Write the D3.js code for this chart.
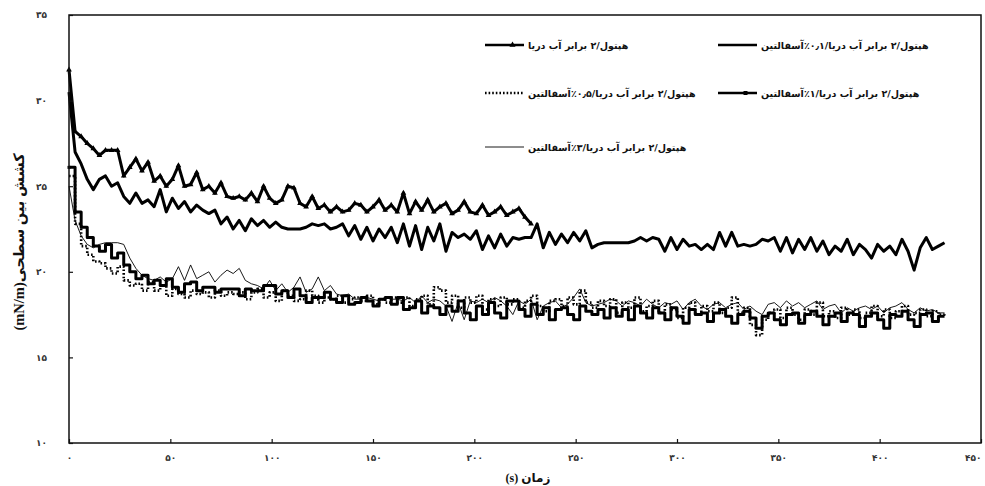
<!DOCTYPE html>
<html>
<head>
<meta charset="utf-8">
<script src="https://cdn.jsdelivr.net/npm/d3@7"></script>
<style>
  html, body { margin: 0; padding: 0; background: #fff; }
  svg { display: block; }
  .tick-label { font-family: "DejaVu Sans", sans-serif; font-weight: bold; font-size: 9px; fill: #333; letter-spacing: 3px; }
  .legend-text { font-family: "DejaVu Sans", sans-serif; font-weight: bold; font-size: 9.5px; fill: #111; }
  .axis-title { font-family: "Liberation Serif", "DejaVu Sans", serif; font-weight: bold; fill: #111; }
</style>
</head>
<body>
<svg id="chart" width="985" height="486"></svg>
<script>
// Sample times (s)
const sampleTimes = [
  0,3,6,9,12,15,18,21,24,27,30,33,36,39,42,45,48,51,54,57,
  60,63,66,69,72,75,78,81,84,87,90,93,96,99,102,105,108,111,114,117,
  120,123,126,129,132,135,138,141,144,147,150,153,156,159,162,165,168,171,174,177,
  180,183,186,189,192,195,198,201,204,207,210,213,216,219,222,225,228,231,234,237,
  240,243,246,249,252,255,258,261,264,267,270,273,276,279,282,285,288,291,294,297,
  300,303,306,309,312,315,318,321,324,327,330,333,336,339,342,345,348,351,354,357,
  360,363,366,369,372,375,378,381,384,387,390,393,396,399,402,405,408,411,414,417,
  420,423,426,429,432
];

// Interfacial tension (mN/m), heptol / 2x seawater, no asphaltene (to 228 s)
const tensionNoAsph = [
  31.8,28.2,27.9,27.5,27.2,26.8,27.1,27.1,27.1,25.6,26.1,26.6,25.9,26.4,25.3,25.6,25.0,25.4,26.2,25.0,
  25.1,25.8,24.8,25.0,24.6,25.2,24.4,24.3,24.4,24.2,24.6,24.1,25.0,24.3,24.0,24.2,25.0,24.9,24.0,23.8,
  24.4,23.7,23.9,23.5,23.8,23.5,23.6,24.0,23.9,23.5,23.8,24.2,23.6,23.9,23.5,24.6,23.4,24.1,23.6,24.2,
  23.5,23.8,24.0,23.4,23.6,24.1,23.5,23.4,23.9,23.3,23.5,23.8,23.3,23.5,23.7,23.2,22.8
];

// 0.1% asphaltene
const tensionAsph01 = [
  30.5,27.0,26.3,25.4,24.8,25.4,25.6,25.0,25.2,24.4,24.0,24.6,24.0,24.2,23.8,24.8,23.5,24.3,23.7,24.1,
  23.5,23.9,23.6,23.4,23.6,22.8,23.2,22.5,23.0,22.4,23.1,22.7,23.0,22.6,22.9,22.6,22.5,22.5,22.5,22.6,
  22.8,22.7,22.8,22.5,22.6,22.8,22.1,22.7,21.9,22.6,21.8,22.5,22.0,22.6,21.7,22.8,21.5,22.7,21.3,22.6,
  21.8,22.8,21.2,22.3,22.0,22.2,21.9,22.4,21.3,22.1,21.4,22.2,21.5,22.0,21.9,22.0,22.0,22.8,21.4,22.3,
  21.6,22.2,21.7,22.3,21.8,22.4,21.4,21.6,21.7,21.7,21.7,21.7,21.7,21.8,22.0,21.8,22.0,21.9,21.2,22.0,
  21.3,21.9,21.5,21.6,21.3,21.6,21.3,22.3,21.5,22.3,21.5,21.6,21.5,21.6,21.9,21.8,22.0,21.2,22.0,21.1,
  21.9,21.3,22.0,21.2,21.8,21.0,21.5,21.2,21.9,21.0,21.6,21.3,20.8,21.6,21.2,21.5,21.0,21.9,21.2,20.1,
  21.4,22.0,21.3,21.5,21.7
];

// 0.5% asphaltene
const tensionAsph05 = [
  25.6,22.8,21.5,21.0,20.6,20.5,20.2,19.9,20.3,19.5,19.2,19.3,18.9,19.4,18.9,19.2,18.6,19.0,18.7,18.5,
  18.9,18.7,18.8,18.5,18.9,18.6,18.8,18.7,18.8,18.4,18.8,19.0,18.5,18.8,18.3,18.9,18.6,18.3,18.4,18.9,
  18.6,18.2,18.5,18.4,18.6,18.2,18.4,18.5,18.3,18.6,18.1,18.4,18.2,18.5,18.2,18.5,18.0,18.4,18.6,18.1,
  19.1,18.9,18.2,18.6,17.9,18.5,18.2,18.6,17.8,18.4,18.0,18.5,18.1,18.4,17.9,18.3,18.6,18.0,17.7,18.3,
  18.4,18.0,18.5,18.1,18.9,18.2,17.9,18.3,18.0,18.4,17.6,18.2,17.9,18.5,17.7,18.0,18.3,17.6,18.1,17.8,
  17.3,17.9,18.2,17.5,18.0,17.7,18.2,17.6,17.9,18.5,17.6,17.9,16.9,16.3,17.2,17.6,17.8,17.3,17.9,17.5,
  17.2,17.8,17.5,18.2,17.4,17.7,17.3,17.9,17.5,17.8,17.3,17.6,18.0,17.4,17.8,17.3,17.7,18.0,17.5,17.6,
  17.8,17.4,17.7,17.5,17.6
];

// 1% asphaltene
const tensionAsph1 = [
  26.1,23.5,22.6,22.0,21.5,21.2,21.6,20.8,21.1,20.4,20.0,19.6,19.8,19.3,19.5,19.2,19.6,19.1,18.8,19.3,
  19.4,18.9,19.1,19.1,18.8,19.0,19.0,19.0,18.6,19.0,18.9,18.9,19.2,19.2,18.7,18.9,18.5,19.0,18.6,18.2,
  18.5,18.5,18.8,18.4,18.2,18.6,18.1,18.2,18.5,18.3,18.0,18.4,18.5,18.1,18.5,17.8,17.9,18.3,17.6,18.0,
  17.9,17.5,18.0,17.7,18.3,17.6,17.2,18.0,17.5,18.2,17.6,17.3,18.3,18.3,17.8,17.4,18.1,17.5,17.9,17.2,
  17.8,17.9,17.5,17.2,18.0,17.7,17.5,17.8,17.3,17.9,17.4,17.8,17.2,18.0,17.6,17.3,17.9,17.6,17.2,17.9,
  17.4,17.0,17.8,17.5,17.6,17.1,17.6,17.8,17.4,17.0,17.5,17.7,17.3,16.7,17.4,17.6,17.2,16.9,17.5,17.6,
  17.0,17.5,17.7,17.4,16.9,17.4,17.6,17.1,17.6,17.5,16.8,17.4,17.6,17.2,16.7,17.5,17.4,17.7,17.2,16.8,
  17.5,17.6,17.1,17.4,17.4
];

// 3% asphaltene
const tensionAsph3 = [
  25.0,23.0,22.1,21.6,21.4,21.6,21.7,21.7,21.7,21.6,20.8,20.2,19.8,19.6,19.5,19.7,19.4,19.6,20.3,19.5,
  20.4,19.6,19.8,20.0,19.4,19.8,20.1,19.9,20.2,19.5,19.3,19.2,19.0,19.5,18.9,19.3,18.8,19.1,19.7,18.8,
  19.0,19.7,18.9,19.2,18.7,18.6,18.7,18.4,18.4,18.5,18.4,18.3,18.5,18.4,18.4,18.3,18.5,18.2,18.6,18.2,
  18.4,18.3,18.0,17.1,18.2,17.2,18.3,18.2,18.4,18.2,18.5,18.3,18.0,17.5,18.3,18.1,18.4,17.2,18.0,18.2,
  18.3,17.9,18.1,18.5,19.0,18.2,18.0,18.1,18.2,18.4,18.3,18.0,18.3,18.2,18.0,18.4,18.1,17.9,18.2,18.1,
  18.3,17.8,18.2,18.4,18.0,17.8,18.1,18.2,17.9,18.1,18.2,17.8,18.0,17.7,17.5,18.1,18.2,17.9,18.3,18.0,
  18.2,17.9,18.1,18.3,17.8,18.0,18.1,17.6,17.9,17.7,17.9,18.0,17.8,18.0,17.6,17.9,18.0,18.2,17.8,17.6,
  17.9,17.7,17.8,17.6,17.6
];

// Axis ticks and labels
const xTicks = [0, 50, 100, 150, 200, 250, 300, 350, 400, 450];
const xTickLabels = ["۰", "۵۰", "۱۰۰", "۱۵۰", "۲۰۰", "۲۵۰", "۳۰۰", "۳۵۰", "۴۰۰", "۴۵۰"];
const yTicks = [10, 15, 20, 25, 30, 35];
const yTickLabels = ["۱۰", "۱۵", "۲۰", "۲۵", "۳۰", "۳۵"];
const xTitle = "(s) زمان";
const yTitle = "(mN/m)کشش بین سطحی";

// Legend labels
const seriesNames = [
  "هپتول/۲ برابر آب دریا",
  "هپتول/۲ برابر آب دریا/۰٫۱٪آسفالتین",
  "هپتول/۲ برابر آب دریا/۰٫۵٪آسفالتین",
  "هپتول/۲ برابر آب دریا/۱٪آسفالتین",
  "هپتول/۲ برابر آب دریا/۳٪آسفالتین"
];

const svg = d3.select("#chart");
const margin = { left: 69, right: 4, top: 15, bottom: 43 };
const W = 985, H = 486;
const plotW = W - margin.left - margin.right;
const plotH = H - margin.top - margin.bottom;

const x = d3.scaleLinear().domain([0, 450]).range([margin.left, margin.left + plotW]);
const y = d3.scaleLinear().domain([10, 35]).range([margin.top + plotH, margin.top]);

// Series definitions (styles only; values come from the arrays above)
const series = [
  { name: seriesNames[0], values: tensionNoAsph, width: 3, dash: null, marker: "triangle", curve: d3.curveLinear },
  { name: seriesNames[1], values: tensionAsph01, width: 3, dash: null, marker: null, curve: d3.curveLinear },
  { name: seriesNames[2], values: tensionAsph05, width: 2.6, dash: "1.6,2", marker: null, curve: d3.curveStepAfter },
  { name: seriesNames[3], values: tensionAsph1, width: 3, dash: null, marker: "square", curve: d3.curveStepAfter },
  { name: seriesNames[4], values: tensionAsph3, width: 0.9, dash: null, marker: null, curve: d3.curveLinear }
];

const plot = svg.append("g");

// draw order: thin and dotted below, thick ones above
const drawOrder = [4, 2, 3, 1, 0];
drawOrder.forEach(i => {
  const s = series[i];
  const pts = s.values.map((v, k) => [sampleTimes[k], v]);
  const line = d3.line().x(d => x(d[0])).y(d => y(d[1])).curve(s.curve);
  plot.append("path")
    .attr("d", line(pts))
    .attr("fill", "none")
    .attr("stroke", "#000")
    .attr("stroke-width", s.width)
    .attr("stroke-linejoin", "round")
    .attr("stroke-dasharray", s.dash);
  if (s.marker) {
    const sym = d3.symbol().type(s.marker === "triangle" ? d3.symbolTriangle : d3.symbolSquare)
      .size(s.marker === "triangle" ? 14 : 9);
    plot.append("g").selectAll("path")
      .data(s.marker === "triangle" ? pts : pts.slice(0, 1))
      .join("path")
      .attr("d", sym)
      .attr("transform", d => `translate(${x(d[0])},${y(d[1])})`)
      .attr("fill", "#000");
  }
});

// Frame
svg.append("rect")
  .attr("x", margin.left).attr("y", margin.top)
  .attr("width", plotW).attr("height", plotH)
  .attr("fill", "none").attr("stroke", "#111").attr("stroke-width", 1.5);

// Inner ticks
const xAxis = d3.axisBottom(x).tickValues(xTicks).tickSizeInner(-4).tickSizeOuter(0)
  .tickFormat((d, i) => xTickLabels[i]).tickPadding(12);
const gx = svg.append("g").attr("transform", `translate(0,${margin.top + plotH})`).call(xAxis);
gx.select(".domain").remove();
gx.selectAll("line").attr("stroke", "#111").attr("stroke-width", 1.2);
gx.selectAll("text").attr("class", "tick-label").attr("dy", "0.71em");
// keep the last label inside the page edge
gx.selectAll("text").filter(d => d === 450)
  .attr("text-anchor", "end").attr("x", 0).style("letter-spacing", "2px");

const yAxis = d3.axisLeft(y).tickValues(yTicks).tickSizeInner(-4).tickSizeOuter(0)
  .tickFormat((d, i) => yTickLabels[i]).tickPadding(22);
const gy = svg.append("g").attr("transform", `translate(${margin.left},0)`).call(yAxis);
gy.select(".domain").remove();
gy.selectAll("line").attr("stroke", "#111").attr("stroke-width", 1.2);
gy.selectAll("text").attr("class", "tick-label");

// Axis titles
svg.append("text").attr("class", "axis-title")
  .attr("x", 528).attr("y", 482).attr("text-anchor", "middle")
  .style("font-size", "12px").text(xTitle);
svg.append("text").attr("class", "axis-title")
  .attr("transform", "translate(24,242) rotate(-90)")
  .attr("text-anchor", "middle")
  .style("font-size", "14.5px").text(yTitle);

// Legend
const legendPos = [
  { sx: 485, sy: 45 }, { sx: 718, sy: 45 },
  { sx: 485, sy: 93 }, { sx: 718, sy: 93 },
  { sx: 485, sy: 147 }
];
const sampleLen = 39;
series.forEach((s, i) => {
  const p = legendPos[i];
  const g = svg.append("g");
  g.append("line")
    .attr("x1", p.sx).attr("x2", p.sx + sampleLen)
    .attr("y1", p.sy).attr("y2", p.sy)
    .attr("stroke", "#000").attr("stroke-width", s.width === 0.9 ? 0.9 : 2.4)
    .attr("stroke-dasharray", s.dash);
  if (s.marker) {
    g.append("path")
      .attr("d", d3.symbol().type(s.marker === "triangle" ? d3.symbolTriangle : d3.symbolSquare).size(16)())
      .attr("transform", `translate(${p.sx + sampleLen / 2 + 8},${p.sy})`)
      .attr("fill", "#000");
  }
  g.append("text").attr("class", "legend-text")
    .attr("x", p.sx + sampleLen + 4).attr("y", p.sy + 3.5)
    .text(s.name);
});
</script>
</body>
</html>
